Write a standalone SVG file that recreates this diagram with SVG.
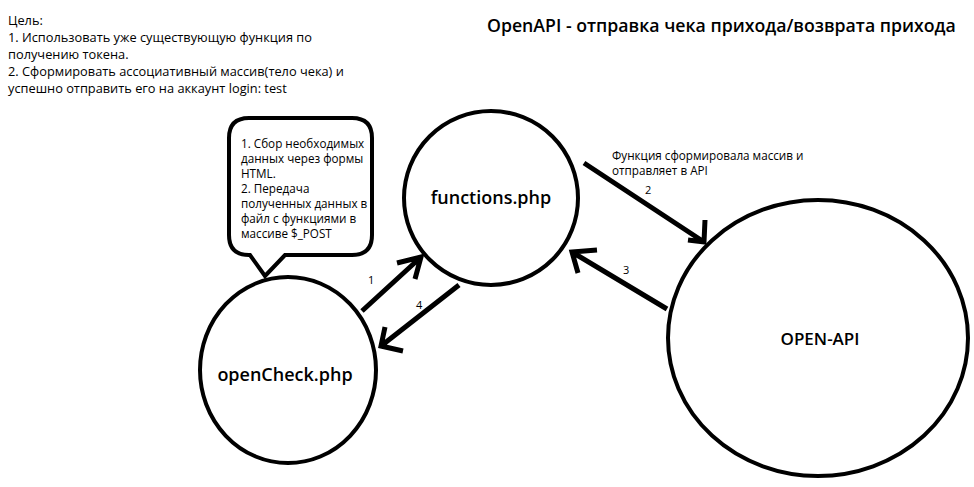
<svg xmlns="http://www.w3.org/2000/svg" width="974" height="487" viewBox="0 0 974 487">
<style>
text{font-family:"Open Sans","Noto Sans","DejaVu Sans",sans-serif;fill:#000}
.note{font-size:12.8px}
.bub{font-size:11.7px}
.node{fill:none;stroke:#000;stroke-width:4}
.lbl{font-size:18px;font-weight:600;text-anchor:middle}
.arr{fill:none;stroke:#000;stroke-width:5;stroke-linecap:butt}
.num{font-size:11px}
.cap{font-size:11.7px}
</style>
<rect width="974" height="487" fill="#fff"/>
<text x="8" y="25" class="note">Цель:</text>
<text x="8" y="42" class="note">1. Использовать уже существующую функция по</text>
<text x="8" y="59" class="note">получению токена.</text>
<text x="8" y="76" class="note">2. Сформировать ассоциативный массив(тело чека) и</text>
<text x="8" y="93" class="note">успешно отправить его на аккаунт login: test</text>
<text x="487" y="32" style="font-size:17.7px;font-weight:600">OpenAPI - отправка чека прихода/возврата прихода</text>
<g id="bubble">
<path class="node" d="M249 118 H352 Q372 118 372 138 V235 Q372 255 352 255 H285 L265 276 L250 255 H249 Q229 255 229 235 V138 Q229 118 249 118 Z"/>
<text class="bub"><tspan x="241" y="148">1. Сбор необходимых</tspan><tspan x="241" y="163">данных через формы</tspan><tspan x="241" y="178">HTML.</tspan><tspan x="241" y="193">2. Передача</tspan><tspan x="241" y="208">полученных данных в</tspan><tspan x="241" y="223">файл с функциями в</tspan><tspan x="241" y="238">массиве $_POST</tspan></text>
</g>
<g id="functions">
<circle class="node" cx="491" cy="198" r="87"/>
<text x="491" y="204" class="lbl">functions.php</text>
</g>
<g id="openCheck">
<ellipse class="node" cx="288" cy="370" rx="88" ry="93"/>
<text x="285" y="381" class="lbl">openCheck.php</text>
</g>
<g id="openapi">
<ellipse class="node" cx="818" cy="338" rx="150" ry="138"/>
<text x="820" y="345" class="lbl" style="font-size:17px">OPEN-API</text>
</g>
<g id="connectors">
<path class="arr" d="M362 311 L421 257 M397 263 L421 257 L415 279"/>
<text x="368" y="284" class="num">1</text>
<path class="arr" d="M459 285 L381 346 M385 327 L381 346 L403 351"/>
<text x="416" y="309" class="num">4</text>
<path class="arr" d="M584 163 L704 242 M705 220 L704 242 L688 240"/>
<text x="645" y="194" class="num">2</text>
<text x="612" y="160" class="cap">Функция сформировала массив и</text>
<text x="612" y="175" class="cap">отправляет в API</text>
<path class="arr" d="M667 309 L572 252 M597 250 L572 252 L578 273"/>
<text x="623" y="274" class="num">3</text>
</g>
</svg>
